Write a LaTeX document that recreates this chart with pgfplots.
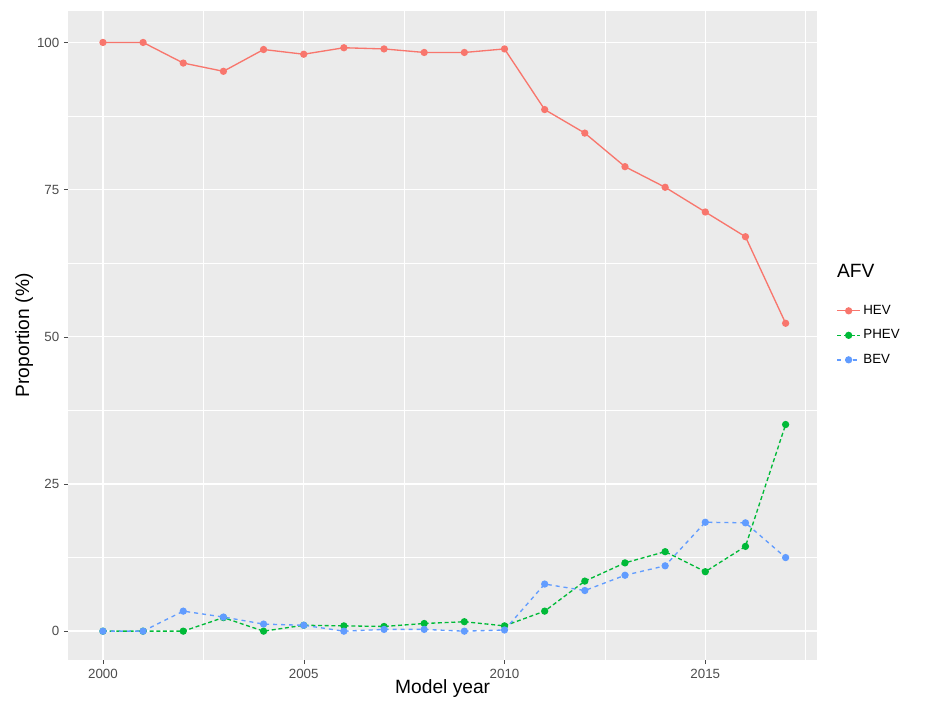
\documentclass[border=0pt]{standalone}
\usepackage{pgfplots}
\pgfplotsset{compat=1.18}
\usepackage{fontspec}
\setmainfont{Liberation Sans}
\definecolor{hev}{HTML}{F8766D}
\definecolor{phev}{HTML}{00BA38}
\definecolor{bev}{HTML}{619CFF}
\definecolor{panel}{HTML}{EBEBEB}
\begin{document}
\begin{tikzpicture}
\path[use as bounding box] (-51pt,-33pt) rectangle (645pt,495pt);
\begin{axis}[scale only axis, width=562pt, height=487pt, clip=false,
  xmin=1999.13, xmax=2017.79, ymin=-4.9, ymax=105.4,
  axis background/.style={fill=panel}, axis line style={draw=none},
  xtick={2000,2005,2010,2015}, ytick={0,25,50,75,100},
  minor xtick={2002.5,2007.5,2012.5,2017.5}, minor ytick={12.5,37.5,62.5,87.5},
  grid=both, major grid style={white, line width=1pt}, minor grid style={white, line width=0.5pt},
  tick style={gray!60!black}, major tick length=3pt, minor tick length=0pt,
  tick align=outside, xtick pos=bottom, ytick pos=left,
  x tick label style={/pgf/number format/1000 sep={}, font=\normalsize, text=black!70},
  y tick label style={font=\normalsize, text=black!70},
  /pgf/number format/assume math mode=true,
  xlabel={Model year}, ylabel={Proportion (\%)},
  label style={font=\Large}, xlabel style={yshift=6pt}, ylabel style={yshift=-4pt},
  legend style={at={(1.02,0.5)}, anchor=west, draw=none, fill=none, font=\normalsize, row sep=6pt},
  legend cell align=left,
  every axis plot/.append style={line width=1pt, mark=*, mark size=2.2pt, mark options={solid}},
]
\addplot[hev] coordinates {(2000,100)(2001,100)(2002,96.5)(2003,95.1)(2004,98.8)(2005,98)(2006,99.1)(2007,98.9)(2008,98.3)(2009,98.3)(2010,98.9)(2011,88.6)(2012,84.6)(2013,78.9)(2014,75.4)(2015,71.2)(2016,67)(2017,52.3)};
\addplot[phev, densely dashed] coordinates {(2000,0)(2001,0)(2002,0)(2003,2.3)(2004,0)(2005,1.0)(2006,0.9)(2007,0.8)(2008,1.3)(2009,1.6)(2010,0.9)(2011,3.4)(2012,8.5)(2013,11.6)(2014,13.5)(2015,10.1)(2016,14.4)(2017,35.1)};
\addplot[bev, dashed] coordinates {(2000,0)(2001,0)(2002,3.4)(2003,2.4)(2004,1.2)(2005,1.0)(2006,0)(2007,0.3)(2008,0.3)(2009,0)(2010,0.2)(2011,8.0)(2012,6.9)(2013,9.5)(2014,11.1)(2015,18.5)(2016,18.4)(2017,12.5)};
\legend{HEV,PHEV,BEV}
\node[anchor=west, font=\Large] at (rel axis cs:1.02,0.6) {AFV};
\end{axis}
\end{tikzpicture}
\end{document}
